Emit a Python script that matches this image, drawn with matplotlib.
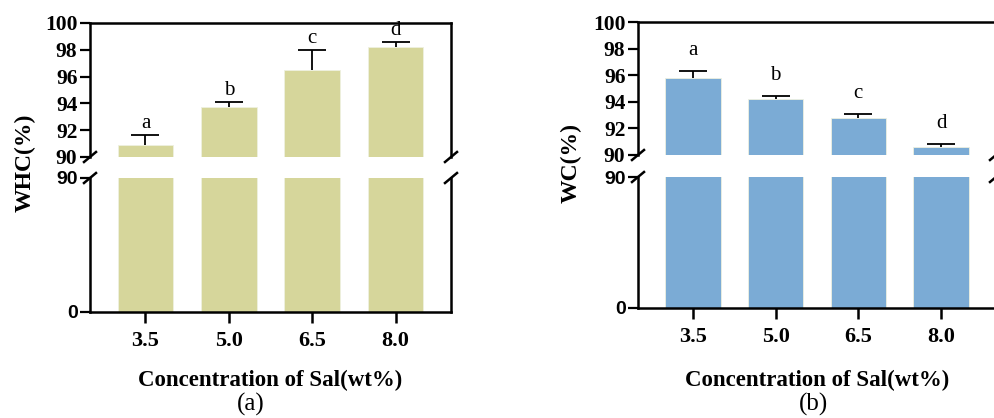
import numpy as np
import matplotlib
matplotlib.use("Agg")
import matplotlib.pyplot as plt

# data
conc = ["3.5", "5.0", "6.5", "8.0"]
whc = [90.9, 93.7, 96.5, 98.2]
whc_err = [0.75, 0.37, 1.5, 0.4]
wc = [95.8, 94.2, 92.8, 90.6]
wc_err = [0.5, 0.25, 0.3, 0.2]
letters = ["a", "b", "c", "d"]
upper_ticks = [90, 92, 94, 96, 98, 100]
lower_ticks = [0, 90]

SERIF = "Liberation Serif"
SANS = "Liberation Sans"
W, H = 994, 418

fig = plt.figure(figsize=(W / 100, H / 100), dpi=100)


def px_axes(left, right, top, bottom):
    return fig.add_axes([left / W, 1 - bottom / H, (right - left) / W, (bottom - top) / H])


def break_mark(ax, x, y, dx, dy):
    # little "/" on the spine end, in pixel-sized axes units
    bb = ax.get_position()
    ax_w = bb.width * W
    ax_h = bb.height * H
    ax.plot([x - dx / ax_w, x + dx / ax_w], [y - dy / ax_h, y + dy / ax_h],
            transform=ax.transAxes, color="black", lw=1.8, clip_on=False)


def panel(box_up, box_lo, values, errs, color, ylabel, ylabel_x, tag, tag_x, xlabel_x, letter_off):
    x = np.arange(len(conc))
    up = px_axes(*box_up)
    lo = px_axes(*box_lo)
    for ax in (up, lo):
        ax.bar(x, values, width=0.67, color=color, edgecolor="#eef0e0", linewidth=0.6, zorder=2)
        ax.set_xlim(-0.665, 3.665)
        for s in ax.spines.values():
            s.set_linewidth(1.8)
        ax.tick_params(axis="y", length=7, width=1.6, pad=2)
    up.set_ylim(90, 100)
    lo.set_ylim(0, 90)
    up.spines["bottom"].set_visible(False)
    lo.spines["top"].set_visible(False)
    up.set_xticks([])
    up.set_yticks(upper_ticks)
    up.set_yticklabels([str(t) for t in upper_ticks], fontfamily=SERIF, fontweight="bold", fontsize=15.5)
    lo.set_yticks(lower_ticks)
    lo.set_yticklabels([str(t) for t in lower_ticks], fontfamily=SANS, fontweight="bold", fontsize=14)
    lo.set_xticks(x)
    lo.set_xticklabels(conc, fontfamily=SERIF, fontweight="bold", fontsize=16)
    lo.tick_params(axis="x", length=8, width=1.8, pad=6)

    # one-sided error bars: drop the lower cap
    eb = up.errorbar(x, values, yerr=[np.zeros(len(errs)), errs], fmt="none",
                     ecolor="black", elinewidth=1.3, capsize=10, capthick=1.3, zorder=3)
    eb[1][0].set_visible(False)
    for xi, v, e, l in zip(x, values, errs, letters):
        up.annotate(l, (xi, v + e), xytext=(0, letter_off), textcoords="offset points",
                    ha="center", va="bottom", fontfamily=SERIF, fontsize=15, annotation_clip=False)

    for xs in (0, 1):
        break_mark(up, xs, 0, 6, 5)
        break_mark(lo, xs, 1, 6, 5)

    fig.text(ylabel_x / W, 1 - 163 / H, ylabel, rotation=90, ha="center", va="center",
             fontfamily=SERIF, fontweight="bold", fontsize=17)
    fig.text(xlabel_x / W, 1 - 380 / H, "Concentration of Sal(wt%)", ha="center", va="center",
             fontfamily=SERIF, fontweight="bold", fontsize=16.5)
    fig.text(tag_x / W, 1 - 404 / H, tag, ha="center", va="center", fontfamily=SERIF, fontsize=18)


panel((90, 451, 23, 157), (90, 451, 178, 312), whc, whc_err, "#d6d69b",
      "WHC(%)", 25, "(a)", 251, 270, 1.5)
panel((638, 996, 22, 155), (638, 996, 177, 308), wc, wc_err, "#7babd5",
      "WC(%)", 571, "(b)", 813, 817, 8)

fig.savefig("out.png", dpi=100)
